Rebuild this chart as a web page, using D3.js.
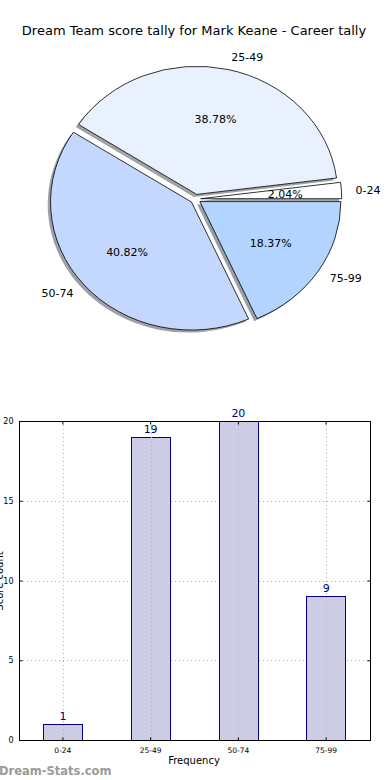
<!DOCTYPE html>
<html lang="en">
<head>
    <meta charset="UTF-8">
    <title>Dream Team score tally - Mark Keane</title>
    <style>
        body {
            margin: 0;
            padding: 0;
            background: #fff;
            font-family: 'DejaVu Sans', sans-serif;
        }
        svg {
            display: block;
        }
    </style>
</head>
<body>

<svg id="chart" width="390" height="780"></svg>

<script src="https://d3js.org/d3.v7.min.js"></script>
<script>
    // Data
    const categories = ["0-24", "25-49", "50-74", "75-99"];
    const tallies = [1, 19, 20, 9];
    const sliceColors = ["#ffffff", "#eaf1fe", "#c4d7fe", "#b2d4fe"];
    const yTicks = [0, 5, 10, 15, 20];

    const svg = d3.select("#chart");

    // Title
    svg.append("text")
        .attr("x", 194)
        .attr("y", 35)
        .attr("text-anchor", "middle")
        .attr("font-size", 13)
        .attr("fill", "#000")
        .text("Dream Team score tally for Mark Keane - Career tally");

    // ---- Pie (matplotlib style: starts at east, counter-clockwise, elliptical) ----
    const cx = 195.5, cy = 199, rx = 141, ry = 128;
    const explode = 0.037;
    const total = d3.sum(tallies);

    const pie = d3.pie()
        .sort(null)
        .startAngle(Math.PI / 2)
        .endAngle(Math.PI / 2 - 2 * Math.PI);
    const slices = pie(tallies);

    const unitArc = d3.arc().innerRadius(0).outerRadius(1);

    // point on the ellipse for d3 angle a and radius factor f
    function pt(a, f) {
        return [cx + f * rx * Math.sin(a), cy - f * ry * Math.cos(a)];
    }

    const pieG = svg.append("g");

    // shadows
    slices.forEach((s, i) => {
        const mid = (s.startAngle + s.endAngle) / 2;
        const [ox, oy] = pt(mid, explode);
        const c = d3.rgb(sliceColors[i]);
        pieG.append("path")
            .attr("d", unitArc(s))
            .attr("transform", `translate(${ox - 0.02 * rx},${oy + 0.02 * ry}) scale(${rx},${ry})`)
            .attr("fill", d3.rgb(c.r * 0.3, c.g * 0.3, c.b * 0.3))
            .attr("fill-opacity", 0.5);
    });

    // wedges
    slices.forEach((s, i) => {
        const mid = (s.startAngle + s.endAngle) / 2;
        const [ox, oy] = pt(mid, explode);
        pieG.append("path")
            .attr("d", unitArc(s))
            .attr("transform", `translate(${ox},${oy}) scale(${rx},${ry})`)
            .attr("fill", sliceColors[i])
            .attr("stroke", "#000")
            .attr("stroke-width", 0.8)
            .attr("vector-effect", "non-scaling-stroke");
    });

    // labels
    slices.forEach((s, i) => {
        const mid = (s.startAngle + s.endAngle) / 2;
        const [lx, ly] = pt(mid, explode + 1.1);
        pieG.append("text")
            .attr("x", lx)
            .attr("y", ly)
            .attr("dy", "0.35em")
            .attr("font-size", 11)
            .attr("text-anchor", Math.sin(mid) >= 0 ? "start" : "end")
            .text(categories[i]);

        const [px, py] = pt(mid, explode + 0.6);
        pieG.append("text")
            .attr("x", px)
            .attr("y", py)
            .attr("dy", "0.35em")
            .attr("font-size", 11)
            .attr("text-anchor", "middle")
            .text((tallies[i] / total * 100).toFixed(2) + "%");
    });

    // ---- Bar chart ----
    const plotL = 19, plotR = 370, plotT = 421, plotB = 740;

    const x = d3.scaleBand()
        .domain(categories)
        .range([plotL, plotR])
        .paddingInner(0.55)
        .paddingOuter(0.275);

    const y = d3.scaleLinear()
        .domain([0, 20])
        .range([plotB, plotT]);

    const grid = svg.append("g")
        .attr("stroke", "#b0b0b0")
        .attr("stroke-width", 1)
        .attr("stroke-dasharray", "1,3");

    yTicks.forEach(t => {
        grid.append("line")
            .attr("x1", plotL).attr("x2", plotR)
            .attr("y1", Math.round(y(t)) + 0.5).attr("y2", Math.round(y(t)) + 0.5);
    });

    // bars
    svg.append("g")
        .selectAll("rect")
        .data(tallies)
        .join("rect")
        .attr("x", (d, i) => Math.round(x(categories[i])) + 0.5)
        .attr("y", d => Math.round(y(d)) + 0.5)
        .attr("width", Math.round(x.bandwidth()))
        .attr("height", d => Math.round(y(0)) - Math.round(y(d)))
        .attr("fill", "#ccccE5")
        .attr("stroke", "#000080")
        .attr("stroke-width", 1);

    // vertical grid lines drawn over the bars
    const vgrid = svg.append("g")
        .attr("stroke", "#b0b0b0")
        .attr("stroke-width", 1)
        .attr("stroke-dasharray", "1,3");
    categories.forEach(c => {
        const gx = Math.round(x(c) + x.bandwidth() / 2) + 0.5;
        vgrid.append("line")
            .attr("x1", gx).attr("x2", gx)
            .attr("y1", plotT).attr("y2", plotB);
    });

    // value labels
    svg.append("g")
        .selectAll("text")
        .data(tallies)
        .join("text")
        .attr("x", (d, i) => x(categories[i]) + x.bandwidth() / 2)
        .attr("y", d => y(d) - 4)
        .attr("text-anchor", "middle")
        .attr("font-size", 11)
        .attr("fill", "#000080")
        .text(d => d);

    // frame
    svg.append("rect")
        .attr("x", plotL + 0.5)
        .attr("y", plotT + 0.5)
        .attr("width", plotR - plotL)
        .attr("height", plotB - plotT)
        .attr("fill", "none")
        .attr("stroke", "#000")
        .attr("stroke-width", 1);

    // y axis ticks (inward) and labels
    const yAxis = svg.append("g")
        .attr("transform", `translate(${plotL + 0.5},0)`)
        .call(d3.axisLeft(y).tickValues(yTicks).tickSize(-3).tickPadding(6));
    yAxis.select(".domain").remove();
    yAxis.selectAll("text").attr("font-size", 8).attr("font-family", "'DejaVu Sans', sans-serif");

    const yAxisR = svg.append("g")
        .attr("transform", `translate(${plotR + 0.5},0)`)
        .call(d3.axisRight(y).tickValues(yTicks).tickSize(-3).tickFormat(""));
    yAxisR.select(".domain").remove();

    // x axis ticks and labels
    const xAxis = svg.append("g")
        .attr("transform", `translate(0,${plotB + 0.5})`)
        .call(d3.axisBottom(x).tickSize(-3).tickPadding(7));
    xAxis.select(".domain").remove();
    xAxis.selectAll("text").attr("font-size", 7.5).attr("font-family", "'DejaVu Sans', sans-serif");

    const xAxisT = svg.append("g")
        .attr("transform", `translate(0,${plotT + 0.5})`)
        .call(d3.axisTop(x).tickSize(-3).tickFormat(""));
    xAxisT.select(".domain").remove();

    // axis titles
    svg.append("text")
        .attr("x", 194)
        .attr("y", 764)
        .attr("text-anchor", "middle")
        .attr("font-size", 10)
        .text("Frequency");

    svg.append("text")
        .attr("transform", "translate(3,581) rotate(-90)")
        .attr("text-anchor", "middle")
        .attr("font-size", 10)
        .text("Score count");

    // watermark
    svg.append("text")
        .attr("x", -1)
        .attr("y", 775)
        .attr("font-size", 11.5)
        .attr("font-weight", "bold")
        .attr("fill", "#9a9a9a")
        .text("Dream-Stats.com");
</script>

</body>
</html>
